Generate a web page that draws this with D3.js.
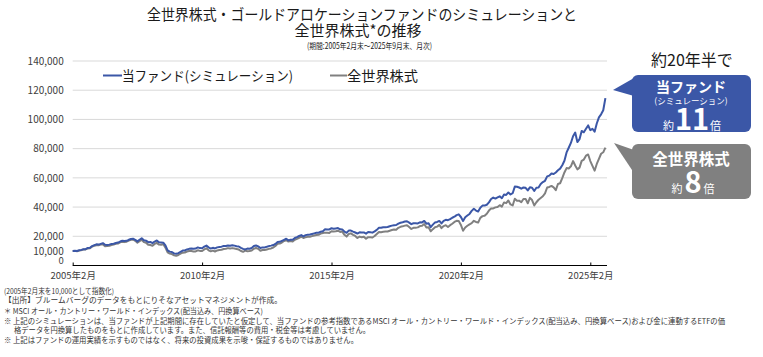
<!DOCTYPE html>
<html><head><meta charset="utf-8">
<script src="https://cdn.jsdelivr.net/npm/d3@7/dist/d3.min.js"></script>
<style>
body{margin:0;background:#fff}
svg{display:block}
text{font-family:"Noto Sans CJK JP","Noto Sans",sans-serif}
</style>
</head><body>
<svg id="chart" width="763" height="357"></svg>
<script>
// ---- data (index, 2005年2月末 = 10,000, monthly 2005/2 – 2025/9) ----
const startMonth = "2005-02";
const fundValues = [
  10000,10100,9900,10400,10700,11100,11200,12000,12100,13300,13900,
  14500,14300,14800,15300,14200,14000,14300,14800,14900,15400,15700,16400,
  16900,16700,16900,17600,18100,18300,17600,16500,17600,18700,17300,17000,
  16000,16100,15300,16400,17100,15900,15800,15600,13800,10400,9500,9200,
  8300,8000,8500,9400,10200,10300,11000,11400,11600,11400,11600,12400,
  11900,11800,12900,13600,12400,11600,12100,11700,12400,12700,12900,13300,
  13300,13700,13500,13900,13600,13200,13000,12100,11400,11000,11600,11500,
  12000,13300,13700,13100,12000,12400,12400,12800,13300,13600,14000,14800,
  16100,16200,16900,17600,18300,17200,17600,17600,18800,19400,20200,20800,
  20000,20800,21000,21200,21600,22000,22400,22500,23100,23500,24800,24600,
  24700,25500,25200,25400,25600,24800,24700,23200,22400,23900,23900,23200,
  22600,21900,22700,22600,22600,21800,22900,22800,22500,23400,24400,25800,
  25800,26200,26200,26400,26900,27300,27600,27700,28700,29300,29600,30100,
  30300,29300,28300,28900,28900,28800,29600,29500,30500,28600,28900,26300,
  28000,29500,29800,30500,28800,30600,31300,31000,31700,32700,33400,34500,
  35000,33200,30500,33000,34200,35300,37400,38800,37600,37000,39600,41000,
  41000,41600,43200,45500,46500,45800,46600,47400,46100,48600,48300,50000,
  48600,49500,54000,53900,53400,52600,53400,53200,51400,53500,53200,51000,
  53200,53400,55800,57100,58000,61000,61500,63000,62600,63700,65200,66300,
  68600,71700,77400,80600,83900,88500,91000,84500,86500,92100,91200,93600,
  95900,92700,93600,91600,97200,101400,103500,106300,114600
];
const worldValues = [
  10000,10000,9700,10200,10500,11000,11000,11700,11800,12900,13400,
  13900,13800,14300,14400,13200,13300,13500,14000,14300,14800,15000,15800,
  16300,16000,16300,17000,17600,17800,16900,15600,16600,17600,16000,15600,
  14200,14000,13500,14800,15500,14300,14200,14500,12200,9000,8200,7800,
  7000,6600,7200,8100,8800,8900,9600,9900,9900,9600,9600,10400,
  10000,9900,11000,11800,10400,9700,10200,9600,10300,10600,10800,11300,
  11500,11900,11600,11900,11600,11300,10900,9900,9400,10200,9800,9900,
  10300,11500,12000,11400,10100,10600,10600,11000,11400,11700,12300,13400,
  14800,15000,15700,16800,17300,16400,16800,16400,17600,18200,19000,19800,
  18800,19400,19600,19700,20100,20500,20900,21000,21800,22200,22500,22400,
  22300,23400,23300,23500,23800,23000,23200,21000,19800,21600,22000,21000,
  20200,18800,19800,19300,19700,18300,19400,19400,19200,20200,21600,23000,
  22800,23100,23200,23300,23800,24300,24700,24500,25800,26500,26800,27300,
  27600,26300,25000,25800,25900,26100,27000,27200,28400,26000,26200,23400,
  24900,26200,26600,27800,25600,27000,27600,26400,27600,28600,29800,30600,
  30400,27800,23800,26000,27200,28200,29000,30600,29800,29400,32600,33800,
  34000,35400,37600,39000,39100,39800,40100,41300,40300,43200,42700,44500,
  41800,41100,45700,44300,44400,43300,45500,45600,42600,46300,44800,41100,
  43300,45000,46200,47400,49400,53400,53800,54500,53500,51600,55800,56300,
  59800,63700,66700,66400,67900,71500,68500,65800,67000,71600,72500,75200,
  76000,71500,68200,64900,69500,73000,76500,77500,80700
];
const seriesNames = ["当ファンド(シミュレーション)", "全世界株式"];
const seriesColors = ["#3b57a7", "#808080"];
const xTickMonths = [0, 60, 120, 180, 240];
const xTickLabels = ["2005年2月", "2010年2月", "2015年2月", "2020年2月", "2025年2月"];
const yTickValues = [0, 10000, 20000, 40000, 60000, 80000, 100000, 120000, 140000];
const gridValues = [20000, 40000, 60000, 80000, 100000, 120000, 140000];
const titleLines = ["全世界株式・ゴールドアロケーションファンドのシミュレーションと", "全世界株式*の推移"];
const subtitle = "(期間:2005年2月末～2025年9月末、月次)";
const notes = [
  "(2005年2月末を10,000として指数化)",
  "【出所】ブルームバーグのデータをもとにりそなアセットマネジメントが作成。",
  "＊ MSCI オール・カントリー・ワールド・インデックス(配当込み、円換算ベース)",
  "※ 上記のシミュレーションは、当ファンドが上記期間に存在していたと仮定して、当ファンドの参考指数であるMSCI オール・カントリー・ワールド・インデックス(配当込み、円換算ベース)および金に連動するETFの価",
  "格データを円換算したものをもとに作成しています。また、信託報酬等の費用・税金等は考慮していません。",
  "※ 上記はファンドの運用実績を示すものではなく、将来の投資成果を示唆・保証するものではありません。"
];
const calloutTexts = [
  {head: "当ファンド", sub: "(シミュレーション)", pre: "約", num: "11", post: "倍"},
  {head: "全世界株式", sub: null, pre: "約", num: "8", post: "倍"}
];

// ---- drawing ----
const svg = d3.select("#chart");
const x = d3.scaleLinear().domain([0, 240]).range([72.7, 590.3]);
const y = d3.scaleLinear().domain([0, 140000]).range([265.5, 61]);

// title
svg.append("text").attr("x", 362).attr("y", 20).attr("text-anchor", "middle")
  .attr("font-size", 15).attr("fill", "#1a1a1a")
  .attr("textLength", 430).attr("lengthAdjust", "spacingAndGlyphs").text(titleLines[0]);
svg.append("text").attr("x", 358).attr("y", 36).attr("text-anchor", "middle")
  .attr("font-size", 15).attr("fill", "#1a1a1a").text(titleLines[1]);
svg.append("text").attr("x", 369.5).attr("y", 48.5).attr("text-anchor", "middle")
  .attr("font-size", 8.5).attr("fill", "#1a1a1a")
  .attr("textLength", 125).attr("lengthAdjust", "spacingAndGlyphs").text(subtitle);

// grid
svg.append("g").selectAll("line").data(gridValues).join("line")
  .attr("x1", 72.7).attr("x2", 607).attr("y1", d => y(d)).attr("y2", d => y(d))
  .attr("stroke", "#d9d9d9").attr("stroke-width", 1);

// y axis labels
const yAxis = d3.axisLeft(y).tickValues(yTickValues).tickFormat(d3.format(",")).tickSize(0).tickPadding(9);
const gy = svg.append("g").attr("transform", "translate(72.7,0)").call(yAxis);
gy.select(".domain").remove();
gy.selectAll("text").attr("font-size", 10).attr("fill", "#404040")
  .attr("font-family", '"Noto Sans CJK JP","Noto Sans",sans-serif');
gy.selectAll(".tick").filter(d => d === 0).select("text").attr("dy", "-0.18em").attr("font-size", 9.5);

// x axis
const xAxis = d3.axisBottom(x).tickValues(xTickMonths).tickFormat((d, i) => xTickLabels[i]).tickSize(-3).tickPadding(7);
const gx = svg.append("g").attr("transform", "translate(0,265.5)").call(xAxis);
gx.select(".domain").attr("d", `M72.7,0H607`).attr("stroke", "#000").attr("stroke-width", 1.2);
gx.selectAll(".tick line").attr("stroke", "#000");
gx.selectAll("text").attr("font-size", 9.5).attr("fill", "#404040")
  .attr("font-family", '"Noto Sans CJK JP","Noto Sans",sans-serif');

// lines
const line = d3.line().x((d, i) => x(i)).y(d => y(d));
svg.append("path").datum(worldValues).attr("d", line).attr("fill", "none")
  .attr("stroke", seriesColors[1]).attr("stroke-width", 2).attr("stroke-linejoin", "round");
svg.append("path").datum(fundValues).attr("d", line).attr("fill", "none")
  .attr("stroke", seriesColors[0]).attr("stroke-width", 2).attr("stroke-linejoin", "round");

// legend
const legendItems = [{x1: 103, x2: 122, tx: 122, w: 171}, {x1: 330, x2: 347, tx: 347, w: 71}];
legendItems.forEach((it, i) => {
  svg.append("line").attr("x1", it.x1).attr("x2", it.x2).attr("y1", 75.5).attr("y2", 75.5)
    .attr("stroke", seriesColors[i]).attr("stroke-width", 2);
  svg.append("text").attr("x", it.tx).attr("y", 80.5).attr("font-size", 13.5).attr("fill", "#1a1a1a")
    .attr("textLength", it.w).attr("lengthAdjust", "spacingAndGlyphs")
    .text(seriesNames[i]);
});

// callouts
svg.append("text").attr("x", 692).attr("y", 66).attr("text-anchor", "middle")
  .attr("font-size", 16).attr("fill", "#1a1a1a").text("約20年半で");

function callout(color, top, h, tip, base1, base2) {
  svg.append("rect").attr("x", 632).attr("y", top).attr("width", 119).attr("height", h)
    .attr("rx", 6).attr("fill", color);
  svg.append("path").attr("d", `M${tip[0]},${tip[1]}L634,${base1}L634,${base2}Z`).attr("fill", color);
}
callout(seriesColors[0], 75, 57, [613, 90], 78, 96);
callout(seriesColors[1], 144, 55, [614, 143], 150, 173);

// blue callout texts
svg.append("text").attr("x", 691).attr("y", 91.5).attr("text-anchor", "middle")
  .attr("font-size", 14).attr("font-weight", "bold").attr("fill", "#fff").text(calloutTexts[0].head);
svg.append("text").attr("x", 691).attr("y", 103.5).attr("text-anchor", "middle")
  .attr("font-size", 8.5).attr("fill", "#fff").text(calloutTexts[0].sub);
const t1 = svg.append("text").attr("x", 692).attr("y", 129.5).attr("text-anchor", "middle").attr("fill", "#fff");
t1.append("tspan").attr("font-size", 11).text(calloutTexts[0].pre);
t1.append("tspan").attr("font-size", 29).attr("font-weight", "bold").attr("dx", 1).text(calloutTexts[0].num);
t1.append("tspan").attr("font-size", 11).attr("dx", 1).text(calloutTexts[0].post);

// gray callout texts
svg.append("text").attr("x", 691).attr("y", 165).attr("text-anchor", "middle")
  .attr("font-size", 15.5).attr("font-weight", "bold").attr("fill", "#fff").text(calloutTexts[1].head);
const t2 = svg.append("text").attr("x", 693).attr("y", 193).attr("text-anchor", "middle").attr("fill", "#fff");
t2.append("tspan").attr("font-size", 11).text(calloutTexts[1].pre);
t2.append("tspan").attr("font-size", 29).attr("font-weight", "bold").attr("dx", 2).text(calloutTexts[1].num);
t2.append("tspan").attr("font-size", 11).attr("dx", 2).text(calloutTexts[1].post);

// notes
const noteY = [294, 303, 314, 324, 333, 343];
const noteX = [4, 4, 4, 4, 14, 4];
const noteW = [110, 278, 259, 721, 356, 354];
svg.append("g").selectAll("text").data(notes).join("text")
  .attr("x", (d, i) => noteX[i]).attr("y", (d, i) => noteY[i])
  .attr("font-size", 7.6).attr("fill", "#333")
  .attr("textLength", (d, i) => noteW[i]).attr("lengthAdjust", "spacingAndGlyphs")
  .text(d => d);
</script>
</body></html>
